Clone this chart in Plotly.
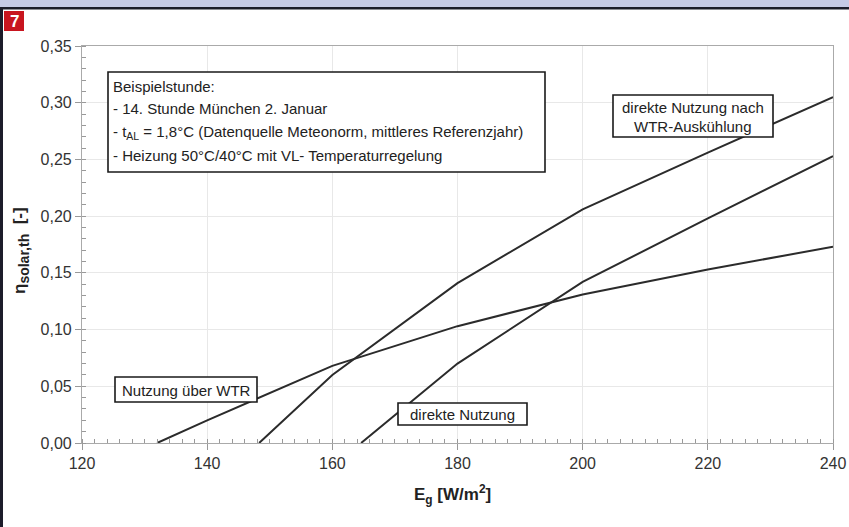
import plotly.graph_objects as go

# ---- data ----
x_wtr = [132.0, 140, 160, 180, 200, 220, 240]
y_wtr = [0.0, 0.020, 0.068, 0.103, 0.131, 0.153, 0.173]

x_nach = [148.3, 160, 180, 200, 220, 240]
y_nach = [0.0, 0.060, 0.141, 0.206, 0.256, 0.305]

x_dir = [164.6, 180, 200, 220, 240]
y_dir = [0.0, 0.070, 0.142, 0.198, 0.253]

x_ticks = [120, 140, 160, 180, 200, 220, 240]
y_ticks = [0.00, 0.05, 0.10, 0.15, 0.20, 0.25, 0.30, 0.35]

info_lines = [
    "Beispielstunde:",
    "- 14. Stunde München 2. Januar",
    "- t<sub>AL</sub> = 1,8°C (Datenquelle Meteonorm, mittleres Referenzjahr)",
    "- Heizung 50°C/40°C mit VL- Temperaturregelung",
]

W, H = 849, 527
L, R, T, B = 82, 16, 46, 84
PW, PH = W - L - R, H - T - B

def px(x):
    return (x - L) / PW

def py(y):
    return (H - B - y) / PH

FONT = "Liberation Sans, Arial, sans-serif"
LINE = "#2b2b2b"

fig = go.Figure()
for xs, ys in [(x_wtr, y_wtr), (x_nach, y_nach), (x_dir, y_dir)]:
    fig.add_trace(go.Scatter(x=xs, y=ys, mode="lines",
                             line=dict(color=LINE, width=2), showlegend=False,
                             hoverinfo="skip"))

shapes = []
annotations = []

# frame decorations
shapes.append(dict(type="rect", xref="paper", yref="paper", x0=px(0), x1=px(W),
                   y0=py(0), y1=py(7), fillcolor="#c6cae6", line=dict(width=0), layer="below"))
shapes.append(dict(type="rect", xref="paper", yref="paper", x0=px(0), x1=px(W),
                   y0=py(7), y1=py(9.5), fillcolor="#1c1c2a", line=dict(width=0)))
shapes.append(dict(type="rect", xref="paper", yref="paper", x0=px(0), x1=px(3),
                   y0=py(9), y1=py(H), fillcolor="#1c1c2a", line=dict(width=0)))
# badge
shapes.append(dict(type="rect", xref="paper", yref="paper", x0=px(4), x1=px(24),
                   y0=py(11), y1=py(31), fillcolor="#c8151f", line=dict(width=0)))
annotations.append(dict(text="<b>7</b>", xref="paper", yref="paper", x=px(14), y=py(21),
                        showarrow=False, xanchor="center", yanchor="middle",
                        font=dict(family=FONT, size=17, color="white")))

def box(x0, y0, x1, y1):
    shapes.append(dict(type="rect", xref="paper", yref="paper",
                       x0=px(x0), x1=px(x1), y0=py(y0), y1=py(y1),
                       fillcolor="white", line=dict(color="#1a1a1a", width=1.6)))

def text(t, x, y, anchor="left", size=15):
    annotations.append(dict(text=t, xref="paper", yref="paper", x=px(x), y=py(y),
                            showarrow=False, xanchor=anchor, yanchor="middle",
                            font=dict(family=FONT, size=size, color="#222")))

# info box
box(108, 72, 545, 172)
for i, t in enumerate(info_lines):
    text(t, 111, 86 + i * 23)

# label boxes
box(613, 95, 773, 137)
text("direkte Nutzung nach", 693, 107, "center")
text("WTR-Auskühlung", 693, 127, "center")

box(115, 377, 257, 402)
text("Nutzung über WTR", 186, 390, "center")

box(398, 403, 527, 425)
text("direkte Nutzung", 462.5, 414, "center")

# axis titles
annotations.append(dict(text="<b>E<sub>g</sub> [W/m<sup>2</sup>]</b>", xref="paper", yref="paper",
                        x=px(452), y=py(494), showarrow=False, xanchor="center", yanchor="middle",
                        font=dict(family=FONT, size=17, color="#222")))
annotations.append(dict(text="<b>η<sub><span style='font-size:14px'>solar,th</span></sub>  [-]</b>",
                        xref="paper", yref="paper",
                        x=px(21), y=py(250), showarrow=False, xanchor="center", yanchor="middle",
                        textangle=-90, font=dict(family=FONT, size=17, color="#222")))

axis_common = dict(showline=True, linecolor="#aaaaaa", linewidth=1.2, mirror=True,
                   showgrid=True, gridcolor="#e8e8e8", gridwidth=1, zeroline=False,
                   ticks="outside", ticklen=6, tickcolor="#999999", automargin=False,
                   tickfont=dict(family=FONT, size=16, color="#333"))

fig.update_layout(
    template="none",
    width=W, height=H, autosize=False,
    margin=dict(l=L, r=R, t=T, b=B, pad=0),
    paper_bgcolor="white", plot_bgcolor="white",
    separators=",.",
    shapes=shapes, annotations=annotations,
    xaxis=dict(range=[120, 240], tickvals=x_ticks, **axis_common,
               minor=dict(dtick=2, ticks="inside", ticklen=4, tickcolor="#999999", showgrid=False)),
    yaxis=dict(range=[0, 0.35], tickvals=y_ticks, tickformat=".2f", **axis_common,
               minor=dict(dtick=0.01, ticks="inside", ticklen=4, tickcolor="#999999", showgrid=False)),
)

fig.write_html("out.html", config={"responsive": False, "displayModeBar": False})
